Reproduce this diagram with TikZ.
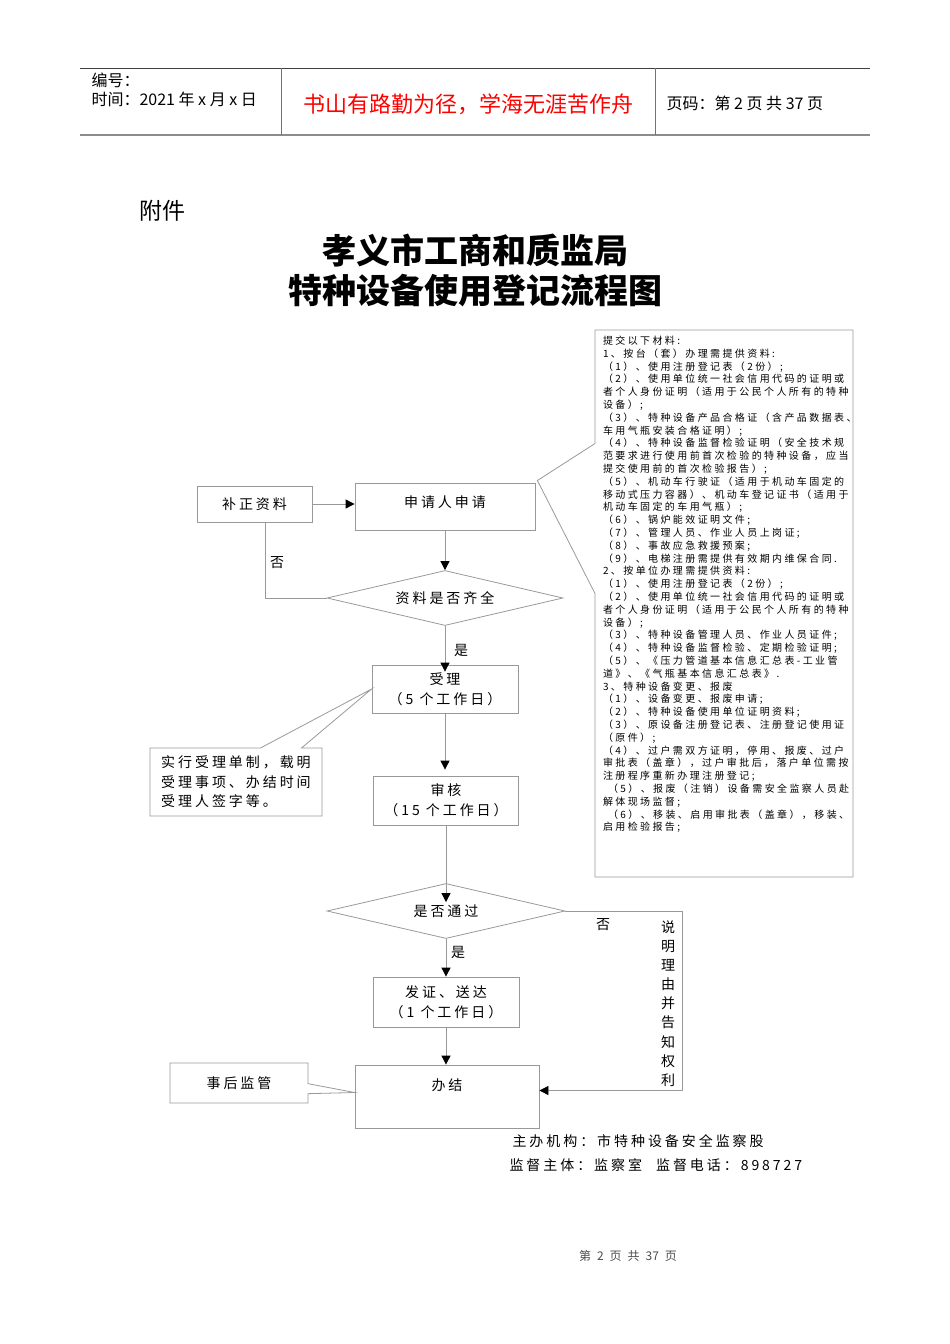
\documentclass[tikz,border=0pt]{standalone}
\usepackage{fontspec}
\usetikzlibrary{shapes.geometric,shapes.callouts,arrows.meta,calc}
\newfontfamily\hei{Noto Sans CJK SC}
\newfontfamily\song[LetterSpace=21]{Noto Sans CJK SC}
\newfontfamily\songs[LetterSpace=24]{Noto Sans CJK SC}

\begin{document}
\begin{tikzpicture}[x=1pt, y=-1pt,
		box/.style={draw=black!40, line width=0.8pt, align=center, inner sep=0pt, font=\song\fontsize{14}{20}\selectfont},
		ask/.style={diamond, aspect=4.3, draw=black!40, line width=0.8pt, inner sep=0pt, font=\song\fontsize{14}{20}\selectfont},
		note/.style={rectangle callout, draw=black!40, line width=0.8pt, align=left, inner sep=0pt},
		flow/.style={draw=black!40, line width=0.8pt, -{Triangle[length=9pt, width=9pt, color=black]}},
		wire/.style={draw=black!40, line width=0.8pt},
		lab/.style={inner sep=0pt, font=\song\fontsize{14}{20}\selectfont}]
		\useasboundingbox (0,0) rectangle (950,1344);
		
		% 页眉
		\draw[line width=1pt, black!75] (80,68) -- (870,68);
		\draw[line width=2pt, black!45] (80,135) -- (870,135);
		\draw[line width=1pt, black!55] (281,68) -- (281,135) (655,68) -- (655,135);
		\node[anchor=west, font=\hei\fontsize{16}{16}\selectfont] (num) at (88,80) {编号：};
		\node[anchor=west, font=\hei\fontsize{16}{16}\selectfont] (date) at (88,99) {时间：2021 年 x 月 x 日};
		\node[font=\hei\fontsize{22}{22}\selectfont, text=red] (motto) at (468,104) {书山有路勤为径，学海无涯苦作舟};
		\node[anchor=west, font=\hei\fontsize{16}{16}\selectfont] (page) at (663,103) {页码：第 2 页 共 37 页};
		
		% 标题
		\node[anchor=west, font=\hei\fontsize{23}{23}\selectfont] (att) at (136,211) {附件};
		\node[align=center, font=\hei\bfseries\fontsize{34}{40}\selectfont] (title) at (475,270) {孝义市工商和质监局\\特种设备使用登记流程图};
		
		% 流程
		\node[box, minimum width=115, minimum height=36] (fix) at (254.5,504) {补正资料};
		\node[box, text height=24.3pt, text depth=22.7pt, minimum width=180] (apply) at (445,506.5) {申请人申请};
		\node[ask, minimum width=236, minimum height=55] (full) at (445,598) {资料是否齐全};
		\node[box, minimum width=146, minimum height=48] (accept) at (445,689) {受理\\（5 个工作日）};
		\node[box, minimum width=145, minimum height=49] (check) at (446,800.5) {审核\\（15 个工作日）};
		\node[ask, minimum width=238, minimum height=55] (pass) at (446,911) {是否通过};
		\node[box, minimum width=146, minimum height=50] (issue) at (446,1002) {发证、送达\\（1 个工作日）};
		\node[box, text height=25.3pt, text depth=37.7pt, minimum width=184] (done) at (447,1096.5) {办结};
		
		\node[lab] (no1) at (277,563) {否};
		\node[lab] (yes1) at (461,650) {是};
		\node[lab] (no2) at (603,925) {否};
		\node[lab] (yes2) at (458,952) {是};
		\node[lab, align=center, font=\song\fontsize{14}{19.1}\selectfont] (why) at (668,1003.5) {说\\明\\理\\由\\并\\告\\知\\权\\利};
		\coordinate (bend) at (682,911);
		
		\draw[flow] (fix.east) -- (fix.east -| apply.west);
		\draw[flow] (apply) -- (full);
		\draw[wire] (full.west) -| ($(fix.south)+(10.5,0)$);
		\draw[flow, shorten >=-7pt] (full) -- (accept);
		\draw[flow, shorten >=6pt] (accept.south) -- (accept.south |- check.north);
		\draw[flow, shorten >=-19pt] (check.south) -- (check.south |- pass.north);
		\draw[flow] (pass) -- (issue);
		\draw[flow] (issue.south) -- (issue.south |- done.north);
		\draw[flow] (pass.east) -- (bend) |- ($(done.east)+(0,-6)$);
		
		% 说明框
		\node[note, inner xsep=8pt, callout absolute pointer={($(apply.east)+(2,-26)$)}, callout pointer width=150pt] (docs) at (724,603.5) {%
			\begin{minipage}[c][547pt][t]{242pt}
				\vspace*{6pt}\raggedright\songs\fontsize{10}{12.8}\selectfont
				提交以下材料:\\
				1、按台（套）办理需提供资料:\\
				（1）、使用注册登记表（2份）;\\
				（2）、使用单位统一社会信用代码的证明或\\
				者个人身份证明（适用于公民个人所有的特种\\
				设备）;\\
				（3）、特种设备产品合格证（含产品数据表、\\
				车用气瓶安装合格证明）;\\
				（4）、特种设备监督检验证明（安全技术规\\
				范要求进行使用前首次检验的特种设备，应当\\
				提交使用前的首次检验报告）;\\
				（5）、机动车行驶证（适用于机动车固定的\\
				移动式压力容器）、机动车登记证书（适用于\\
				机动车固定的车用气瓶）;\\
				（6）、锅炉能效证明文件;\\
				（7）、管理人员、作业人员上岗证;\\
				（8）、事故应急救援预案;\\
				（9）、电梯注册需提供有效期内维保合同.\\
				2、按单位办理需提供资料:\\
				（1）、使用注册登记表（2份）;\\
				（2）、使用单位统一社会信用代码的证明或\\
				者个人身份证明（适用于公民个人所有的特种\\
				设备）;\\
				（3）、特种设备管理人员、作业人员证件;\\
				（4）、特种设备监督检验、定期检验证明;\\
				（5）、《压力管道基本信息汇总表-工业管\\
				道》、《气瓶基本信息汇总表》.\\
				3、特种设备变更、报废\\
				（1）、设备变更、报废申请;\\
				（2）、特种设备使用单位证明资料;\\
				（3）、原设备注册登记表、注册登记使用证\\
				（原件）;\\
				（4）、过户需双方证明，停用、报废、过户\\
				审批表（盖章），过户审批后，落户单位需按\\
				注册程序重新办理注册登记;\\
				\hspace*{5pt}（5）、报废（注销）设备需安全监察人员赴\\
				解体现场监督;\\
				\hspace*{5pt}（6）、移装、启用审批表（盖章），移装、\\
				启用检验报告;
			\end{minipage}};
		\node[note, minimum width=172, minimum height=68, callout absolute pointer={(accept.west)}, callout pointer width=41pt, font=\song\fontsize{14}{19.5}\selectfont] (rule) at (236,782) {实行受理单制，载明\\受理事项、办结时间\\受理人签字等。};
		\node[note, minimum width=138, minimum height=40, callout absolute pointer={($(done.west)+(0,-4)$)}, callout pointer width=10pt, font=\song\fontsize{14}{20}\selectfont] (after) at (239,1083) {事后监管};
		
		% 页脚
		\node[anchor=west, font=\song\fontsize{14}{14}\selectfont] (org) at (509,1141) {主办机构：市特种设备安全监察股};
		\node[anchor=west, font=\song\fontsize{14}{14}\selectfont] (sup) at (506,1165) {监督主体：监察室\quad 监督电话：898727};
		\node[font=\hei\fontsize{12}{12}\selectfont, text=black!70] (foot) at (628,1256) {第\enspace 2\enspace 页\enspace 共\enspace 37\enspace 页};
	\end{tikzpicture}
\end{document}
